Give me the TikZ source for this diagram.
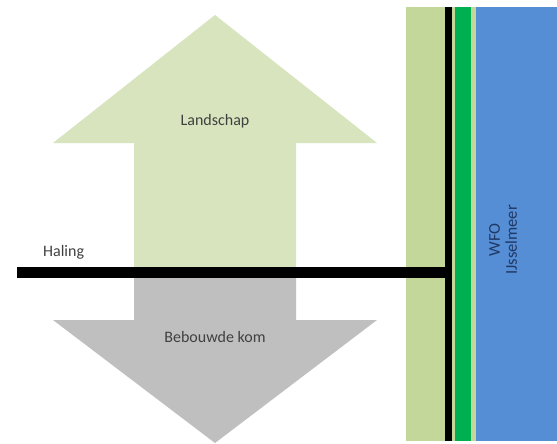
\documentclass[tikz,border=0pt]{standalone}
\usepackage{fontspec}
\setmainfont{Carlito}
\begin{document}
\begin{tikzpicture}[x=1pt,y=-1pt,
  lbl/.style={text=black!75,font=\fontsize{16}{18}\selectfont,inner sep=0pt},
  wfo/.style={text={rgb,255:red,31;green,56;blue,100},font=\fontsize{16.5}{17}\selectfont,inner sep=0pt,align=center,rotate=90}]
\definecolor{colgreen}{HTML}{C4D79B}
\definecolor{upgreen}{HTML}{D7E4BD}
\definecolor{downgrey}{HTML}{BFBFBF}
\definecolor{stripgreen}{HTML}{00B050}
\definecolor{lakeblue}{HTML}{558ED5}
\useasboundingbox (0,0) rectangle (557,444);
\fill[white] (0,0) rectangle (557,444);
% right side bands
\fill[colgreen] (406,7) rectangle (476,441);
\fill[stripgreen] (455,7) rectangle (471,441);
\fill[lakeblue] (476,7) rectangle (557,441);
% up arrow (Landschap)
\fill[upgreen] (215,15) -- (377,143) -- (296,143) -- (296,272) -- (134,272) -- (134,143) -- (53,143) -- cycle;
% down arrow (Bebouwde kom)
\fill[downgrey] (134,272) -- (296,272) -- (296,320) -- (377,320) -- (215,443) -- (53,320) -- (134,320) -- cycle;
% dike line
\coordinate (dtop) at (448.5,7);
\coordinate (dbot) at (448.5,441);
\coordinate (hstart) at (17,272.5);
\coordinate (hend) at (448.5,272.5);
\draw[line width=7pt] (dtop) -- (dbot);
\draw[line width=11pt] (hstart) -- (hend);
% labels
\node[lbl] (landschap) at (215,121) {Landschap};
\node[lbl] (bebouwd) at (215,337) {Bebouwde kom};
\node[lbl,anchor=base west] (haling) at (43,256) {Haling};
\node[wfo] (wfotext) at (503,240) {WFO\\IJsselmeer};
\end{tikzpicture}
\end{document}
